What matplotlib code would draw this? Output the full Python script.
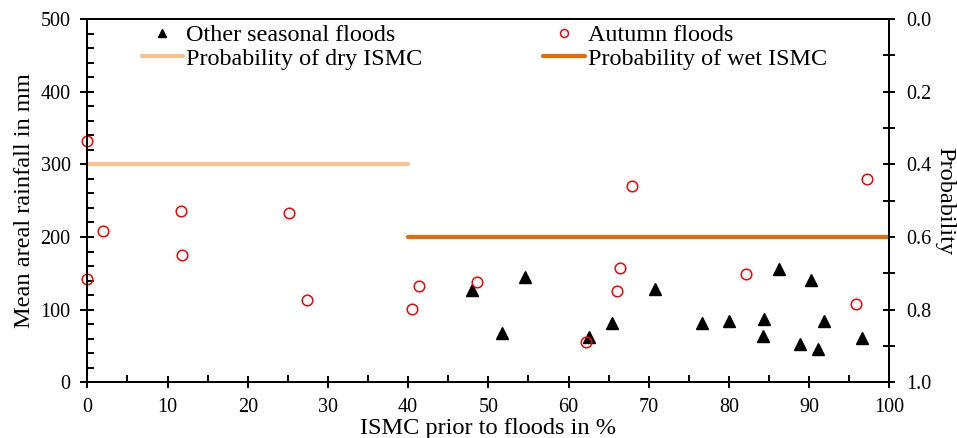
import matplotlib
matplotlib.use("Agg")
import matplotlib.pyplot as plt
from matplotlib.ticker import MultipleLocator

plt.rcParams['font.family'] = ['Liberation Serif', 'DejaVu Serif']

# Data
other_x = [48.0, 51.7, 54.6, 62.6, 65.4, 70.8, 76.6, 80.0, 84.4, 84.3, 86.2, 88.9, 90.2, 91.1, 91.8, 96.6]
other_y = [127, 67.4, 144.5, 62.8, 82.0, 128, 82, 83.9, 87.1, 64.2, 155.5, 52.3, 141.2, 46.3, 83.9, 61]
autumn_x = [0.0, 0.0, 2.0, 11.7, 11.8, 25.2, 27.4, 40.5, 41.4, 48.6, 62.2, 66.1, 66.4, 67.9, 82.1, 95.8, 97.2]
autumn_y = [332.5, 141.7, 207.8, 236.2, 175.2, 233.4, 113.3, 100.5, 132.5, 137.6, 55.9, 126.1, 156.9, 270.2, 149, 107.3, 279.8]
dry_x = [0, 40]
dry_p = [0.4, 0.4]
wet_x = [40, 100]
wet_p = [0.6, 0.6]

W, H = 957, 438
fig = plt.figure(figsize=(W/100, H/100), dpi=100)
ax = fig.add_axes([87.3/W, 1-382.3/H, (889.3-87.3)/W, (382.3-19)/H])
ax2 = ax.twinx()

ax.plot(other_x, other_y, linestyle='none', marker='^', markersize=8.5, color='black',
        label='Other seasonal floods', clip_on=False, zorder=3)
ax.plot(autumn_x, autumn_y, linestyle='none', marker='o', markersize=7.6, markerfacecolor='none',
        markeredgecolor='#FF0000', markeredgewidth=1.1, label='Autumn floods', clip_on=False, zorder=3)

ax2.plot(dry_x, dry_p, color='#FAC090', linewidth=3.0, solid_capstyle='round', label='Probability of dry ISMC')
ax2.plot(wet_x, wet_p, color='#E36C09', linewidth=3.0, solid_capstyle='round', label='Probability of wet ISMC')

ax.set_xlim(0, 100)
ax.set_ylim(0, 500)
ax2.set_ylim(1.0, 0.0)

ax.xaxis.set_major_locator(MultipleLocator(10))
ax.xaxis.set_minor_locator(MultipleLocator(5))
ax.yaxis.set_major_locator(MultipleLocator(100))
ax.yaxis.set_minor_locator(MultipleLocator(20))
ax2.yaxis.set_major_locator(MultipleLocator(0.2))
ax2.yaxis.set_minor_locator(MultipleLocator(0.1))
ax2.yaxis.set_major_formatter(plt.FuncFormatter(lambda v, p: f"{v:.1f}"))

for a in (ax, ax2):
    for s in a.spines.values():
        s.set_linewidth(1.4)

TS = 14.5
ax.tick_params(axis='x', which='major', direction='inout', length=9, width=1.4, labelsize=TS, pad=7)
ax.tick_params(axis='x', which='minor', direction='in', length=5, width=1.4)
ax.tick_params(axis='y', which='major', direction='inout', length=10, width=1.4, labelsize=TS, pad=7)
ax.tick_params(axis='y', which='minor', direction='in', length=5, width=1.4)
ax2.tick_params(axis='y', which='major', direction='inout', length=9, width=1.4, labelsize=TS, pad=8)
ax2.tick_params(axis='y', which='minor', direction='inout', length=9, width=1.4)

LS = 17.6
ax.set_xlabel('ISMC prior to floods in %', fontsize=LS, va='baseline')
ax.xaxis.set_label_coords(0.5, (382.3-434.3)/363.3)
ax.set_ylabel('Mean areal rainfall in mm', fontsize=LS, va='baseline')
ax.yaxis.set_label_coords((30-87.3)/802, 0.5)
ax2.set_ylabel('Probability', fontsize=LS, rotation=270, va='baseline')
ax2.yaxis.set_label_coords((939-87.3)/802, 0.5)

h1, l1 = ax.get_legend_handles_labels()
h2, l2 = ax2.get_legend_handles_labels()
handles = [h1[0], h2[0], h1[1], h2[1]]
labels = [l1[0], l2[0], l1[1], l2[1]]
ax2.legend(handles, labels, ncol=2, frameon=False, fontsize=17.4, loc='upper left',
           bbox_to_anchor=(141.7/W, 1-24.5/H), bbox_transform=fig.transFigure,
           borderpad=0, borderaxespad=0, handlelength=1.72, handletextpad=0.13,
           columnspacing=5.0, labelspacing=0.05, markerscale=0.75)

fig.savefig('out.png', dpi=100)
